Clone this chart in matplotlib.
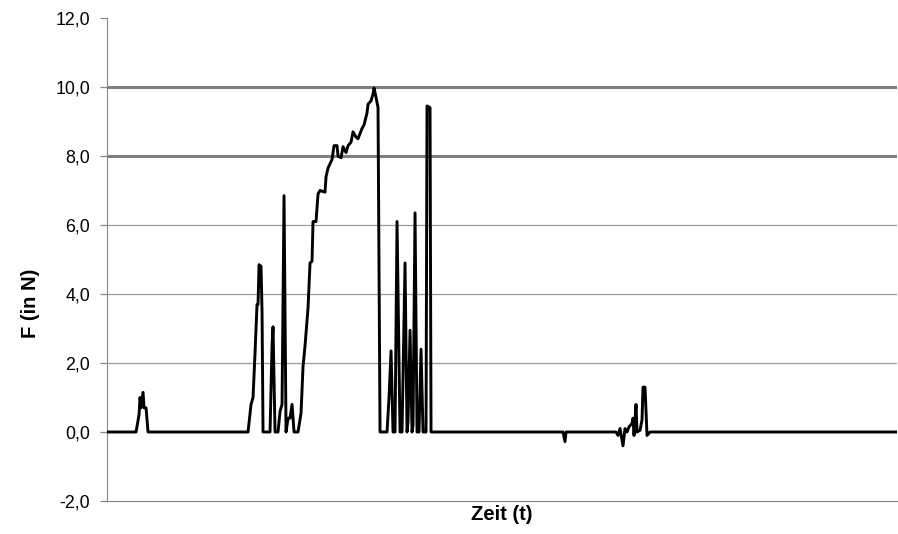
import matplotlib.pyplot as plt
from matplotlib.ticker import FuncFormatter

# Zeitpunkte (beliebige Einheit) und gemessene Kraft F in N
zeit = [0,
        29, 32, 33, 34, 36, 37, 39, 41,
        141, 144, 146, 148, 150, 151, 152, 154, 155, 156,
        163, 165, 166, 168,
        171, 173, 175, 177, 179,
        181, 183, 185, 187,
        191, 194, 196, 198, 201, 203, 205, 206, 209, 211, 213, 218, 219, 221,
        225, 227, 230, 231, 234, 236, 239, 241, 244, 246, 249, 251, 255, 257,
        260, 261, 264, 266, 267, 269, 271, 273,
        280, 282, 284, 286,
        288, 290, 293,
        295, 298, 300,
        301, 303, 305,
        306, 308, 310,
        312, 314, 316,
        319, 320, 323, 324,
        456, 458, 459,
        509, 511, 513, 516, 518, 520, 522, 525, 526, 527, 529, 530, 533, 535,
        536, 538, 540, 543,
        790]
kraft = [0,
         0, 0.5, 1.0, 0.7, 1.15, 0.7, 0.7, 0,
         0, 0.8, 1.0, 2.3, 3.7, 3.7, 4.85, 4.8, 3.5, 0,
         0, 2.5, 3.05, 0,
         0, 0.6, 0.8, 6.85, 0,
         0.4, 0.4, 0.8, 0,
         0, 0.55, 1.9, 2.5, 3.6, 4.9, 4.95, 6.1, 6.1, 6.9, 7.0, 6.95, 7.4, 7.65,
         7.9, 8.3, 8.3, 8.0, 7.95, 8.27, 8.1, 8.3, 8.4, 8.7, 8.55, 8.5, 8.8, 8.9,
         9.25, 9.5, 9.6, 9.8, 9.97, 9.7, 9.4, 0,
         0, 1.0, 2.35, 0,
         0, 6.1, 0,
         0, 4.9, 0,
         0.3, 2.95, 0,
         0.2, 6.35, 0,
         0, 2.4, 0,
         0, 9.45, 9.4, 0,
         0, -0.28, 0,
         0, -0.1, 0.1, -0.4, 0.1, 0.0, 0.15, 0.25, 0.4, -0.1, 0.8, 0.0, 0.05, 0.35,
         1.3, 1.3, -0.1, 0,
         0]

y_ticks = [-2, 0, 2, 4, 6, 8, 10, 12]

plt.rcParams['font.family'] = ['Liberation Sans', 'DejaVu Sans']

fig = plt.figure(figsize=(8.98, 5.34), dpi=100)
ax = fig.add_axes([0.1192, 0.0618, 0.8797, 0.9045])

# Hilfslinien: 2, 4, 6 duenn und hell, 8 und 10 kraeftiger
for y in [2, 4, 6]:
    ax.axhline(y, color='#9a9a9a', linewidth=0.9, zorder=1)
for y in [8, 10]:
    ax.axhline(y, color='#7f7f7f', linewidth=2.2, zorder=1)

ax.plot(zeit, kraft, color='black', linewidth=2.1, zorder=3)

ax.set_xlim(0, 790)
ax.set_ylim(-2, 12)
ax.set_yticks(y_ticks)
ax.yaxis.set_major_formatter(FuncFormatter(lambda v, p: f'{v:.1f}'.replace('.', ',')))
ax.set_xticks([])
ax.tick_params(axis='y', direction='out', length=5, width=0.9, color='#868686',
               labelsize=12.8, pad=7)

ax.spines['top'].set_visible(False)
ax.spines['right'].set_visible(False)
ax.spines['left'].set_color('#868686')
ax.spines['bottom'].set_color('#868686')

ax.set_ylabel('F (in N)', fontsize=14.5, fontweight='bold')
ax.yaxis.set_label_coords(-0.085, 0.41)
ax.set_xlabel('Zeit (t)', fontsize=14.5, fontweight='bold', labelpad=3)

plt.savefig('out.png', dpi=100)
